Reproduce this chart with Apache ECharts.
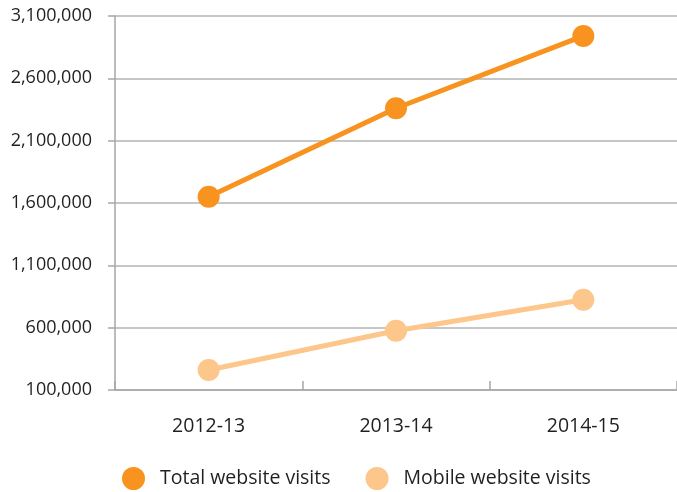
<!DOCTYPE html>
<html>
<head>
<meta charset="utf-8">
<script src="https://cdn.jsdelivr.net/npm/echarts@6/dist/echarts.min.js"></script>
<style>html,body{margin:0;padding:0;background:#fff}#c{width:677px;height:492px}</style>
</head>
<body>
<div id="c"></div>
<script>
const categories = ['2012-13', '2013-14', '2014-15'];
const totalVisits = [1650000, 2360000, 2940000];
const mobileVisits = [260000, 575000, 824000];
const yTicks = [100000, 600000, 1100000, 1600000, 2100000, 2600000, 3100000];
const seriesNames = ['Total website visits', 'Mobile website visits'];

const FONT = '"Open Sans", "Noto Sans", sans-serif';
const chart = echarts.init(document.getElementById('c'));
chart.setOption({
  animation: false,
  color: ['#F7931E', '#FDC68A'],
  grid: { left: 115, right: -2, top: 16, bottom: 102, containLabel: false },
  legend: {
    left: 122, top: 467, padding: 0,
    icon: 'circle', itemWidth: 23, itemHeight: 23, itemGap: 35,
    textStyle: { fontFamily: FONT, fontSize: 19.5, color: '#231f20', padding: [0, 0, 0, 10] },
    data: seriesNames
  },
  xAxis: {
    type: 'category', data: categories, boundaryGap: true,
    axisLine: { show: true, lineStyle: { color: '#a6a6a6', width: 1.5 } },
    axisTick: { show: true, inside: true, length: 9, lineStyle: { color: '#a6a6a6', width: 1.5 } },
    axisLabel: { fontFamily: FONT, fontSize: 19.5, color: '#231f20', margin: 26 }
  },
  yAxis: {
    type: 'value', min: yTicks[0], max: yTicks[yTicks.length - 1], interval: yTicks[1] - yTicks[0],
    axisLine: { show: true, lineStyle: { color: '#a6a6a6', width: 1.5 } },
    axisTick: { show: true, length: 7, lineStyle: { color: '#a6a6a6', width: 1.5 } },
    splitLine: { show: true, lineStyle: { color: '#b3b3b3', width: 1.5 } },
    axisLabel: {
      fontFamily: FONT, fontSize: 18, color: '#231f20', margin: 23,
      formatter: v => v.toLocaleString('en-US')
    }
  },
  series: [
    { name: seriesNames[0], type: 'line', data: totalVisits, symbol: 'circle', symbolSize: 22,
      lineStyle: { width: 5 }, z: 3 },
    { name: seriesNames[1], type: 'line', data: mobileVisits, symbol: 'circle', symbolSize: 22,
      lineStyle: { width: 5 }, z: 3 }
  ]
});
</script>
</body>
</html>
